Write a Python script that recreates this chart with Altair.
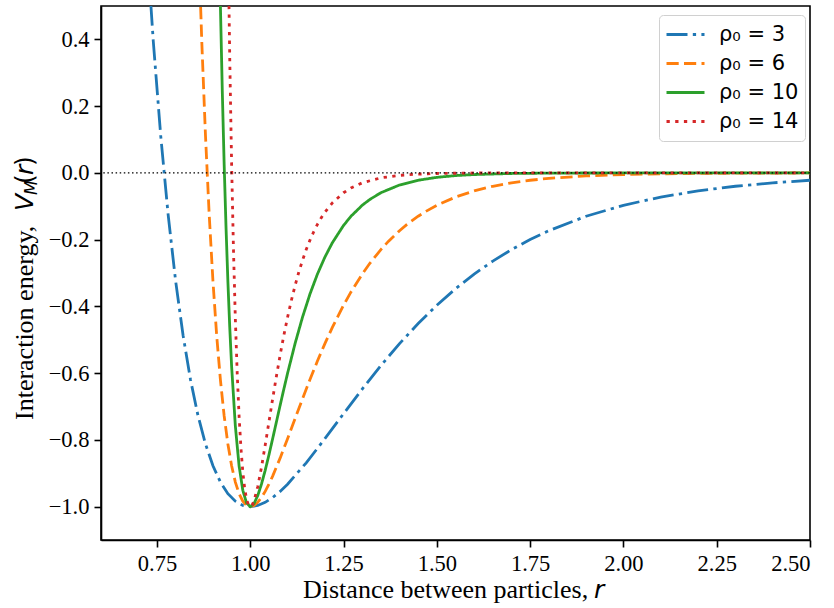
import altair as alt
import pandas as pd

# ---- data (Morse-type interaction curves) ----
labels = ["ρ₀ = 3", "ρ₀ = 6", "ρ₀ = 10", "ρ₀ = 14"]
colors = ["#1f77b4", "#ff7f0e", "#2ca02c", "#d62728"]
dashes = [[21, 5.3, 3.3, 5.3], [12.2, 5.3], [1, 0], [3.3, 5.4]]

r_rho3 = [0.70, 0.72, 0.74, 0.76, 0.78, 0.80, 0.82, 0.84, 0.86, 0.88, 0.90, 0.92,
          0.94, 0.96, 0.98, 1.00, 1.02, 1.04, 1.06, 1.08, 1.10, 1.15, 1.20, 1.25,
          1.30, 1.35, 1.40, 1.45, 1.50, 1.55, 1.60, 1.65, 1.70, 1.75, 1.80, 1.90,
          2.00, 2.10, 2.20, 2.30, 2.40, 2.50]
v_rho3 = [1.1304, 0.7329, 0.3959, 0.1118, -0.1262, -0.3241, -0.4873, -0.6205,
          -0.7276, -0.8122, -0.8776, -0.9264, -0.9611, -0.9837, -0.9962, -1.0,
          -0.9966, -0.9872, -0.9729, -0.9545, -0.9328, -0.8687, -0.7964, -0.7216,
          -0.6478, -0.5774, -0.5117, -0.4513, -0.3965, -0.3472, -0.3033, -0.2643,
          -0.2299, -0.1997, -0.1732, -0.1299, -0.0971, -0.0724, -0.0539, -0.0401,
          -0.0298, -0.0221]

r_rho6 = [0.84, 0.85, 0.86, 0.87, 0.88, 0.89, 0.90, 0.91, 0.92, 0.93, 0.94, 0.95,
          0.96, 0.97, 0.98, 0.99, 1.00, 1.01, 1.02, 1.03, 1.04, 1.05, 1.06, 1.08,
          1.10, 1.12, 1.14, 1.16, 1.18, 1.20, 1.22, 1.25, 1.27, 1.30, 1.32, 1.35,
          1.37, 1.40, 1.42, 1.45, 1.47, 1.50, 1.55, 1.60, 1.65, 1.70, 1.75, 1.80,
          1.90, 2.00, 2.10, 2.25, 2.50]
v_rho6 = [1.5976, 1.1304, 0.7328, 0.3959, 0.1118, -0.1262, -0.3241, -0.4873,
          -0.6205, -0.7276, -0.8122, -0.8776, -0.9264, -0.9611, -0.9837, -0.9962,
          -1.0, -0.9966, -0.9872, -0.9729, -0.9545, -0.9328, -0.9086, -0.8547,
          -0.7964, -0.7366, -0.6770, -0.6192, -0.5639, -0.5117, -0.4629, -0.3965,
          -0.3566, -0.3033, -0.2717, -0.2299, -0.2054, -0.1732, -0.1544, -0.1299,
          -0.1157, -0.0971, -0.0724, -0.0539, -0.0401, -0.0298, -0.0221, -0.0164,
          -0.0090, -0.0050, -0.0027, -0.0011, -0.0002]

r_rho10 = [0.90, 0.91, 0.915, 0.92, 0.925, 0.93, 0.935, 0.94, 0.945, 0.95, 0.96,
           0.97, 0.98, 0.99, 1.00, 1.01, 1.02, 1.03, 1.04, 1.05, 1.06, 1.07, 1.08,
           1.09, 1.10, 1.12, 1.14, 1.16, 1.18, 1.20, 1.22, 1.25, 1.27, 1.30, 1.32,
           1.35, 1.40, 1.45, 1.50, 1.55, 1.60, 1.70, 1.80, 2.00, 2.50]
v_rho10 = [1.9525, 1.1304, 0.7947, 0.5020, 0.2477, 0.0277, -0.1618, -0.3241,
           -0.4623, -0.5792, -0.7581, -0.8776, -0.9510, -0.9889, -1.0, -0.9909,
           -0.9671, -0.9328, -0.8913, -0.8452, -0.7964, -0.7466, -0.6968, -0.6478,
           -0.6004, -0.5117, -0.4324, -0.3630, -0.3033, -0.2524, -0.2093, -0.1574,
           -0.1299, -0.0971, -0.0799, -0.0595, -0.0363, -0.0221, -0.0134, -0.0081,
           -0.0050, -0.0018, -0.0007, -0.0001, 0.0]

r_rho14 = [0.92, 0.93, 0.935, 0.94, 0.945, 0.95, 0.955, 0.96, 0.965, 0.97, 0.975,
           0.98, 0.985, 0.99, 0.995, 1.00, 1.005, 1.01, 1.02, 1.03, 1.04, 1.05,
           1.06, 1.07, 1.08, 1.09, 1.10, 1.11, 1.12, 1.13, 1.14, 1.15, 1.16, 1.17,
           1.18, 1.19, 1.20, 1.22, 1.25, 1.27, 1.30, 1.35, 1.40, 1.45, 1.50, 1.60,
           1.70, 2.00, 2.50]
v_rho14 = [3.2636, 1.7704, 1.2032, 0.7328, 0.3451, 0.0277, -0.2298, -0.4365,
           -0.6002, -0.7276, -0.8244, -0.8956, -0.9454, -0.9774, -0.9947, -1.0,
           -0.9954, -0.9829, -0.9404, -0.8824, -0.8161, -0.7466, -0.6770, -0.6098,
           -0.5461, -0.4868, -0.4324, -0.3828, -0.3380, -0.2978, -0.2619, -0.2299,
           -0.2016, -0.1765, -0.1544, -0.1350, -0.1179, -0.0898, -0.0595, -0.0451,
           -0.0298, -0.0148, -0.0074, -0.0037, -0.0018, -0.0004, -0.0001, 0.0, 0.0]

x_ticks = [0.75, 1.00, 1.25, 1.50, 1.75, 2.00, 2.25, 2.50]
y_ticks = [-1.0, -0.8, -0.6, -0.4, -0.2, 0.0, 0.2, 0.4]

rows = []
for lab, rs, vs in zip(labels, [r_rho3, r_rho6, r_rho10, r_rho14],
                       [v_rho3, v_rho6, v_rho10, v_rho14]):
    for i, (r, v) in enumerate(zip(rs, vs)):
        rows.append({"series": lab, "r": r, "V": v, "i": i})
df = pd.DataFrame(rows)

W, H = 709, 534
SERIF = "Liberation Serif"
SANS = "DejaVu Sans"

xscale = alt.Scale(domain=[0.6, 2.5], nice=False, zero=False)
yscale = alt.Scale(domain=[-1.1, 0.5], nice=False, zero=False)
xaxis = alt.Axis(values=x_ticks, format=".2f", title=None)
yaxis = alt.Axis(values=y_ticks, format=".1f", title=None)

zero_line = alt.Chart(pd.DataFrame({"z": [0.0]})).mark_rule(
    color="black", strokeWidth=1.3, strokeDash=[1.5, 2.6]
).encode(y=alt.Y("z:Q", scale=yscale, axis=yaxis))

LX, LY = 558, 9
lines = alt.Chart(df).mark_line(clip=True, strokeWidth=2.8).encode(
    x=alt.X("r:Q", scale=xscale, axis=xaxis),
    y=alt.Y("V:Q", scale=yscale, axis=yaxis),
    order="i:Q",
    color=alt.Color("series:N", scale=alt.Scale(domain=labels, range=colors),
                    legend=alt.Legend(title=None, orient="none", legendX=LX, legendY=LY,
                                      symbolType="stroke", symbolSize=1444,
                                      symbolStrokeWidth=2.8, clipHeight=27,
                                      rowPadding=2, padding=6, labelOffset=13,
                                      labelFont=SANS, labelFontSize=21,
                                      labelColor="black",
                                      strokeColor="#d0d0d0", cornerRadius=4,
                                      fillColor="white")),
    strokeDash=alt.StrokeDash("series:N",
                              scale=alt.Scale(domain=labels, range=dashes),
                              legend=alt.Legend(title=None, orient="none",
                                                legendX=LX, legendY=LY)),
)

one = pd.DataFrame({"k": [0]})

def txt(text, x, y, font, size, style="normal", angle=0, align="left"):
    kw = dict(text=text, font=font, fontSize=size, fontStyle=style,
              align=align, baseline="alphabetic", color="black")
    if angle:
        kw["angle"] = angle
    return alt.Chart(one).mark_text(**kw).encode(x=alt.value(x), y=alt.value(y))

titles = [
    txt("Distance between particles,", 202, 592, SERIF, 26),
    txt("r", 493, 592, SANS, 25, style="italic"),
    txt("Interaction energy,", -68, 414, SERIF, 26, angle=270),
    txt("V", -68, 205, SANS, 25, style="italic", angle=270),
    txt("M", -64, 189, SANS, 17, style="italic", angle=270),
    txt("(", -68, 178, SANS, 25, angle=270),
    txt("r", -68, 169, SANS, 25, style="italic", angle=270),
    txt(")", -68, 160, SANS, 25, angle=270),
]

chart = alt.layer(lines, zero_line, *titles).properties(
    width=W, height=H,
    autosize=alt.AutoSizeParams(type="none"),
    padding={"left": 101, "top": 6, "right": 24, "bottom": 68},
).configure_view(
    stroke="black", strokeWidth=1.6
).configure_axis(
    grid=False, domainColor="black", domainWidth=1.6,
    tickColor="black", tickWidth=1.6, tickSize=7,
    labelFont=SERIF, labelFontSize=22.5, labelColor="black", labelPadding=5,
)

chart.save("out.html", embed_options={"renderer": "svg", "actions": False})
